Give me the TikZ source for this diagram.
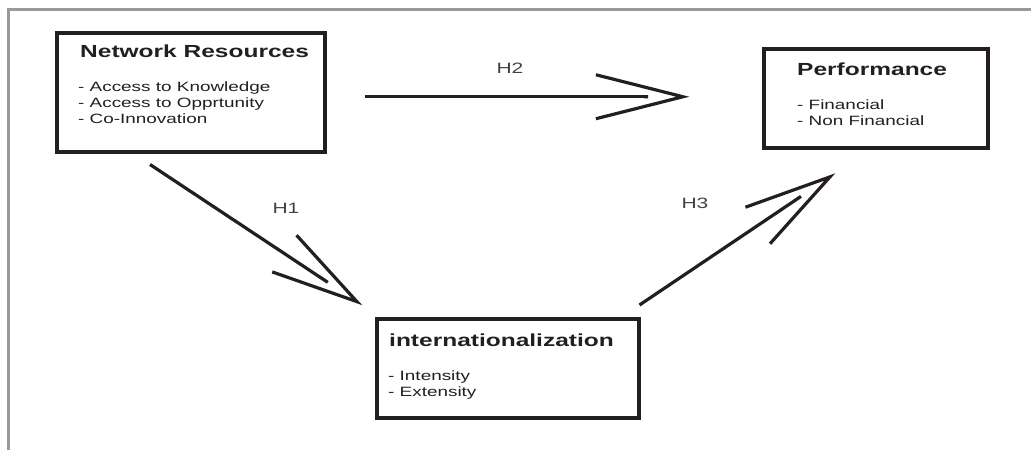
\documentclass[tikz,border=0pt]{standalone}
\usepackage{fontspec}
\setmainfont{Liberation Sans}[FakeStretch=1.4]
\usepackage{tikz}
\usetikzlibrary{arrows.meta,positioning}
\definecolor{ink}{HTML}{231F20}
\tikzset{
  frame/.style={draw=black!40, line width=3pt},
  box/.style={draw=ink, line width=3.5pt, anchor=north west, inner sep=0pt},
  boxtitle/.style={anchor=base west, inner sep=0pt, text=ink,
    font=\fontsize{17.5}{21}\selectfont\bfseries},
  boxitems/.style={anchor=north west, inner sep=0pt, align=left, text=ink,
    font=\fontsize{13.5}{15.7}\selectfont},
  hyp/.style={draw=ink, line width=3.2pt, shorten >=41pt,
    -{Straight Barb[length=87pt,width=44pt,sep=-43pt]Butt Cap}},
  hyplabel/.style={inner sep=0pt, text=ink!85, font=\fontsize{15}{18}\selectfont}
}
\begin{document}
\begin{tikzpicture}[x=1pt, y=-1pt]
      \useasboundingbox (0,0) rectangle (1031,450);
      \draw[frame] (8,450) -- (8,9.5) -- (1031,9.5);
      \node[box, minimum width=268, minimum height=119] (netres) at (55,31) {};
      \node[box, minimum width=224, minimum height=99] (perf) at (762,47) {};
      \node[box, minimum width=262, minimum height=99] (intl) at (375,317) {};
      \node[boxtitle] (netrestitle) at (80,57) {Network Resources};
      \node[boxitems] (netresitems) at (78,82) {- Access to Knowledge\\- Access to Opprtunity\\- Co-Innovation};
      \node[boxtitle] (perftitle) at (797,75) {Performance};
      \node[boxitems] (perfitems) at (797,100) {- Financial\\- Non Financial};
      \node[boxtitle] (intltitle) at (389,346) {internationalization};
      \node[boxitems] (intlitems) at (388,371) {- Intensity\\- Extensity};
      \draw[hyp] ([shift={(38,4.5)}]netres.east) -- ([shift={(-73,-1.5)}]perf.west);
      \draw[hyp] ([shift={(95,11)}]netres.south west) -- ([shift={(-13,-12)}]intl.north west);
      \draw[hyp] ([shift={(-1,-12)}]intl.north east) -- ([shift={(73,24)}]perf.south west);
      \node[hyplabel] (h2) at (510,68) {H2};
      \node[hyplabel] (h1) at (286,208) {H1};
      \node[hyplabel] (h3) at (695,203) {H3};
    \end{tikzpicture}
\end{document}
